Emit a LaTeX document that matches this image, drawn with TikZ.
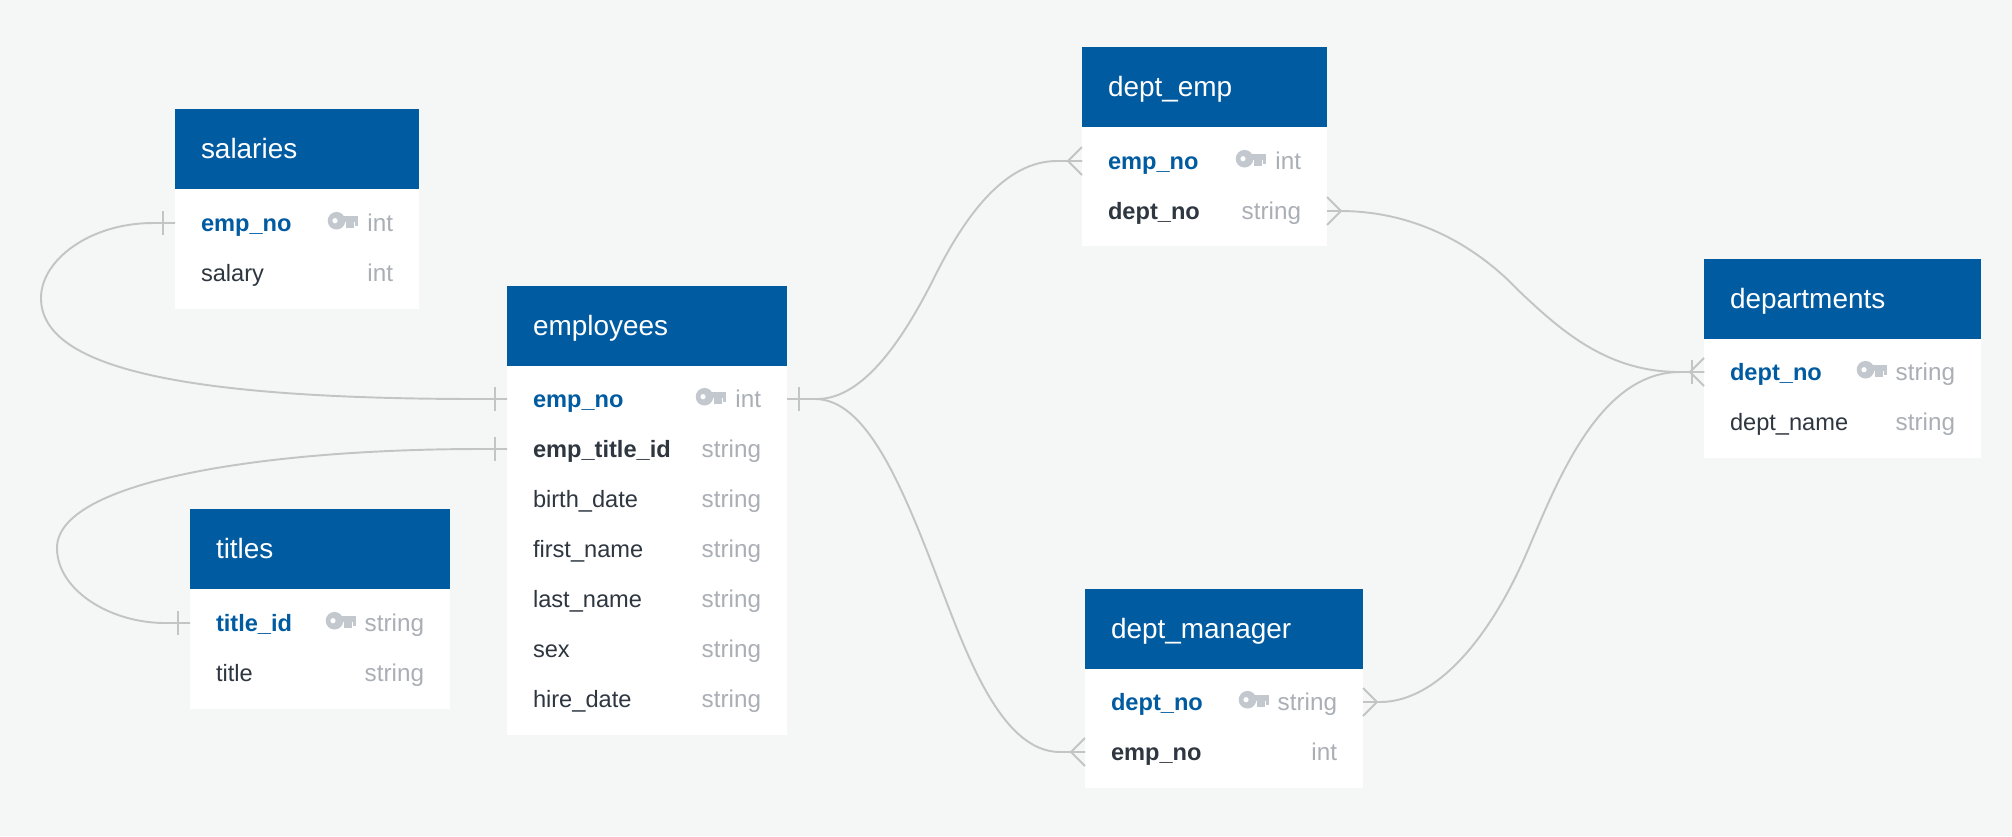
\documentclass[tikz,border=0pt]{standalone}
\usepackage{fontspec}
\setmainfont{Liberation Sans}
\definecolor{pagebg}{HTML}{F5F7F6}
\definecolor{hdrblue}{HTML}{005BA1}
\definecolor{rowtext}{HTML}{2E3640}
\definecolor{typegrey}{HTML}{AAAFB6}
\definecolor{keygrey}{HTML}{C3C8CF}
\definecolor{linkgrey}{HTML}{C2C5C3}
\newcommand{\pkey}[1]{\textcolor{hdrblue}{\bfseries #1}}
\newcommand{\fkey}[1]{\textbf{#1}}
\newcommand{\typ}[1]{\textcolor{typegrey}{\fontsize{6.9}{8}\selectfont #1}}
\begin{document}
\begin{tikzpicture}[x=1cm, y=-1cm]
    \tikzset{
        hdr/.style={rectangle, fill=hdrblue, text=white, anchor=north west, align=left, minimum width=#1cm, minimum height=0.8cm,
            text width=#1cm-0.52cm, inner xsep=0.26cm, inner ysep=0pt, outer sep=0pt, text height=0.22cm, text depth=0.03cm, font=\fontsize{7.95}{9}\selectfont},
        bodybox/.style={rectangle, fill=white, anchor=north west, inner sep=0pt, outer sep=0pt, minimum width=#1cm},
        rowbox/.style={rectangle, text=rowtext, minimum width=#1cm, text width=#1cm-0.52cm, inner xsep=0.26cm, inner ysep=0pt, outer sep=0pt,
            align=left, text height=0.2cm, text depth=0.04cm, font=\fontsize{6.72}{8}\selectfont},
        link/.style={draw=linkgrey, line width=0.55pt},
        onebar/.pic={\draw[link] (-0.12,0) -- (0,0) (-0.12,-0.12) -- (-0.12,0.12);},
        crow/.pic={\draw[link] (-0.14,0) -- (0,0) (-0.14,0) -- (0,-0.14) (-0.14,0) -- (0,0.14);},
        keyicon/.pic={
            \fill[keygrey] (-0.215,-0.023) circle (0.088);
            \fill[keygrey] (-0.16,-0.07) rectangle (0,-0.01);
            \fill[keygrey] (-0.12,-0.02) rectangle (-0.045,0.045);
            \fill[keygrey] (-0.035,-0.02) rectangle (0,0.03);
            \fill[white] (-0.23,-0.023) circle (0.026);
        }
    }
    \fill[pagebg] (0,0) rectangle (20.12,8.36);
    \useasboundingbox (0,0) rectangle (20.12,8.36);

    % salaries
    \node [hdr=2.44] (sal) at (1.75,1.09) {salaries};
    \node [bodybox=2.44, minimum height=1.2cm] (salb) at (sal.south west) {};
    \node [rowbox=2.44] (sal1) at (2.97,2.23) {\pkey{emp\_no}\hfill\typ{int}};
    \node [rowbox=2.44] (sal2) at (2.97,2.73) {salary\hfill\typ{int}};
    \pic at ([xshift=-0.61cm]sal1.east) {keyicon};

    % employees
    \node [hdr=2.80] (emp) at (5.07,2.855) {employees};
    \node [bodybox=2.80, minimum height=3.69cm] (empb) at (emp.south west) {};
    \node [rowbox=2.80] (emp1) at (6.47,3.99) {\pkey{emp\_no}\hfill\typ{int}};
    \node [rowbox=2.80] (emp2) at (6.47,4.49) {\fkey{emp\_title\_id}\hfill\typ{string}};
    \node [rowbox=2.80] (emp3) at (6.47,4.99) {birth\_date\hfill\typ{string}};
    \node [rowbox=2.80] (emp4) at (6.47,5.49) {first\_name\hfill\typ{string}};
    \node [rowbox=2.80] (emp5) at (6.47,5.99) {last\_name\hfill\typ{string}};
    \node [rowbox=2.80] (emp6) at (6.47,6.49) {sex\hfill\typ{string}};
    \node [rowbox=2.80] (emp7) at (6.47,6.99) {hire\_date\hfill\typ{string}};
    \pic at ([xshift=-0.61cm]emp1.east) {keyicon};

    % titles
    \node [hdr=2.60] (tit) at (1.90,5.09) {titles};
    \node [bodybox=2.60, minimum height=1.20cm] (titb) at (tit.south west) {};
    \node [rowbox=2.60] (tit1) at (3.20,6.23) {\pkey{title\_id}\hfill\typ{string}};
    \node [rowbox=2.60] (tit2) at (3.20,6.73) {title\hfill\typ{string}};
    \pic at ([xshift=-0.94cm]tit1.east) {keyicon};

    % dept_emp
    \node [hdr=2.45] (de) at (10.82,0.47) {dept\_emp};
    \node [bodybox=2.45, minimum height=1.19cm] (deb) at (de.south west) {};
    \node [rowbox=2.45] (de1) at (12.045,1.61) {\pkey{emp\_no}\hfill\typ{int}};
    \node [rowbox=2.45] (de2) at (12.045,2.11) {\fkey{dept\_no}\hfill\typ{string}};
    \pic at ([xshift=-0.61cm]de1.east) {keyicon};

    % dept_manager
    \node [hdr=2.78] (dm) at (10.85,5.885) {dept\_manager};
    \node [bodybox=2.78, minimum height=1.19cm] (dmb) at (dm.south west) {};
    \node [rowbox=2.78] (dm1) at (12.24,7.02) {\pkey{dept\_no}\hfill\typ{string}};
    \node [rowbox=2.78] (dm2) at (12.24,7.52) {\fkey{emp\_no}\hfill\typ{int}};
    \pic at ([xshift=-0.94cm]dm1.east) {keyicon};

    % departments
    \node [hdr=2.77] (dep) at (17.04,2.59) {departments};
    \node [bodybox=2.77, minimum height=1.19cm] (depb) at (dep.south west) {};
    \node [rowbox=2.77] (dep1) at (18.425,3.72) {\pkey{dept\_no}\hfill\typ{string}};
    \node [rowbox=2.77] (dep2) at (18.425,4.22) {dept\_name\hfill\typ{string}};
    \pic at ([xshift=-0.94cm]dep1.east) {keyicon};

    % links
    \draw [link] (sal1.west) -- (1.53,2.23) .. controls (0.90,2.23) and (0.41,2.60) .. (0.41,2.98) .. controls (0.41,3.65) and (1.70,3.99) .. (4.80,3.99) -- (emp1.west);
    \draw [link] (emp2.west) -- (4.80,4.49) .. controls (2.70,4.49) and (0.57,4.80) .. (0.57,5.48) .. controls (0.57,5.90) and (1.10,6.23) .. (1.65,6.23) -- (tit1.west);
    \draw [link] (emp1.east) -- (8.17,3.99) .. controls (8.65,3.99) and (9.05,3.35) .. (9.33,2.80) .. controls (9.65,2.15) and (10.05,1.61) .. (10.57,1.61) -- (de1.west);
    \draw [link] (emp1.east) -- (8.15,3.99) .. controls (8.65,3.99) and (9.00,4.80) .. (9.37,5.77) .. controls (9.65,6.50) and (10.00,7.52) .. (10.60,7.52) -- (dm2.west);
    \draw [link] (de2.east) -- (13.40,2.11) .. controls (14.20,2.11) and (14.80,2.50) .. (15.18,2.90) .. controls (15.65,3.35) and (16.10,3.72) .. (16.80,3.72) -- (dep1.west);
    \draw [link] (dm1.east) -- (13.80,7.02) .. controls (14.40,7.02) and (14.95,6.30) .. (15.30,5.45) .. controls (15.58,4.80) and (16.00,3.72) .. (16.80,3.72) -- (dep1.west);

    % link ends
    \pic at (sal1.west) {onebar};
    \pic at (emp1.west) {onebar};
    \pic at (emp2.west) {onebar};
    \pic at (tit1.west) {onebar};
    \pic [xscale=-1] at (emp1.east) {onebar};
    \pic at (de1.west) {crow};
    \pic at (dm2.west) {crow};
    \pic [xscale=-1] at (de2.east) {crow};
    \pic [xscale=-1] at (dm1.east) {crow};
    \pic at (dep1.west) {crow};
    \pic at (dep1.west) {onebar};
\end{tikzpicture}
\end{document}
